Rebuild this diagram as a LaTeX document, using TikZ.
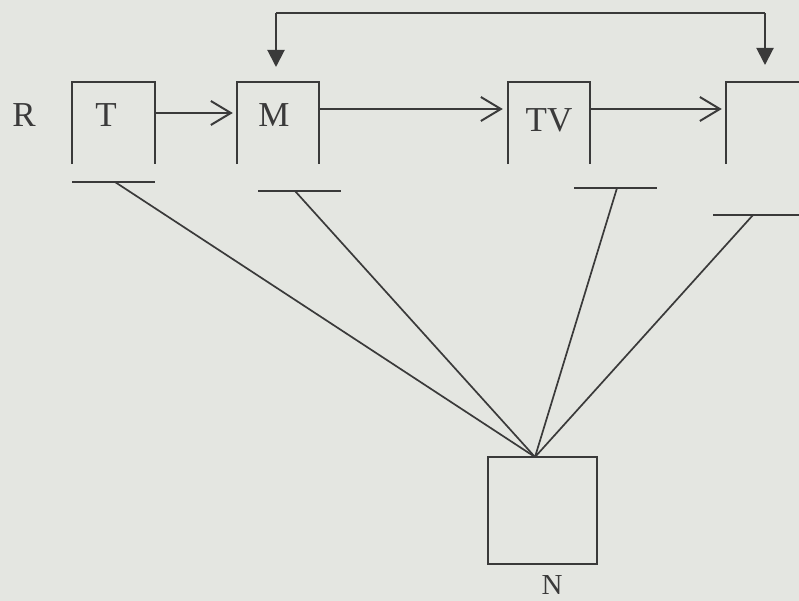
\documentclass[tikz,border=0pt]{standalone}
\usepackage{fontspec}
\setmainfont{Liberation Serif}
\usetikzlibrary{arrows.meta}
\definecolor{paper}{RGB}{228,230,225}
\definecolor{ink}{RGB}{58,58,58}
\begin{document}
\begin{tikzpicture}[x=1pt,y=-1pt,
  box/.style={draw=none, minimum width=82pt, minimum height=82pt, inner sep=0pt},
  boxline/.style={ink, line width=2pt},
  lab/.style={text=ink, font=\fontsize{35}{40}\selectfont, inner sep=0pt},
  flow/.style={boxline, -{Straight Barb[length=20pt,width=24pt,line width=2pt]}},
  feed/.style={boxline, -{Triangle[length=17pt,width=17pt]}},
  link/.style={ink, line width=1.7pt}]
% page
\fill[paper] (0,0) rectangle (799,601);
\useasboundingbox (0,0) rectangle (799,601);
\clip (0,0) rectangle (799,601);

% boxes (open at the bottom)
\node[box, minimum width=83pt] (t) at (113.5,123) {};
\node[box] (m)  at (278,123) {};
\node[box] (tv) at (549,123) {};
\node[box] (v)  at (767,123) {};
\node[box, minimum width=109pt, minimum height=107pt] (n) at (542.5,510.5) {};

\foreach \b in {t,m,tv,v}
  \draw[boxline] (\b.south west) -- (\b.north west) -- (\b.north east) -- (\b.south east);
\draw[boxline] (n.south west) rectangle (n.north east);

% labels
\node[lab] (r)    at (24,115)  {R};
\node[lab] (tlab) at (106,115) {T};
\node[lab] (mlab) at (274,115) {M};
\node[lab] (tvlab) at (549,120) {TV};
\node[lab, font=\fontsize{29}{34}\selectfont] (nlab) at (552,585) {N};

% bars under the boxes
\coordinate (tb1) at (72,182);  \coordinate (tb2) at (155,182);
\coordinate (mb1) at (258,191); \coordinate (mb2) at (341,191);
\coordinate (vb1) at (574,188); \coordinate (vb2) at (657,188);
\coordinate (wb1) at (713,215); \coordinate (wb2) at (810,215);
\draw[boxline] (tb1) -- (tb2);
\draw[boxline] (mb1) -- (mb2);
\draw[boxline] (vb1) -- (vb2);
\draw[boxline] (wb1) -- (wb2);

% main flow
\draw[flow] ([yshift=10pt]t.east) -- ([yshift=10pt,xshift=-4pt]m.west);
\draw[flow] ([yshift=14pt]m.east) -- ([yshift=14pt,xshift=-5pt]tv.west);
\draw[flow] ([yshift=14pt]tv.east) -- ([yshift=14pt,xshift=-4pt]v.west);

% feedback along the top
\coordinate (mfeed) at (276,67);
\coordinate (vfeed) at (765,65);
\coordinate (topl) at (276,13);
\coordinate (topr) at (765,13);
\draw[feed] (topl) -- (mfeed);
\draw[boxline] (topl) -- (topr);
\draw[feed] (topr) -- (vfeed);

% links from the bars down to N
\coordinate (napex) at (535,457);
\coordinate (tl) at (115,182);
\coordinate (ml) at (295,191);
\coordinate (vl) at (617,188);
\coordinate (wl) at (753,215);
\foreach \s in {tl,ml,vl,wl}
  \draw[link] (\s) -- (napex);
\end{tikzpicture}
\end{document}
